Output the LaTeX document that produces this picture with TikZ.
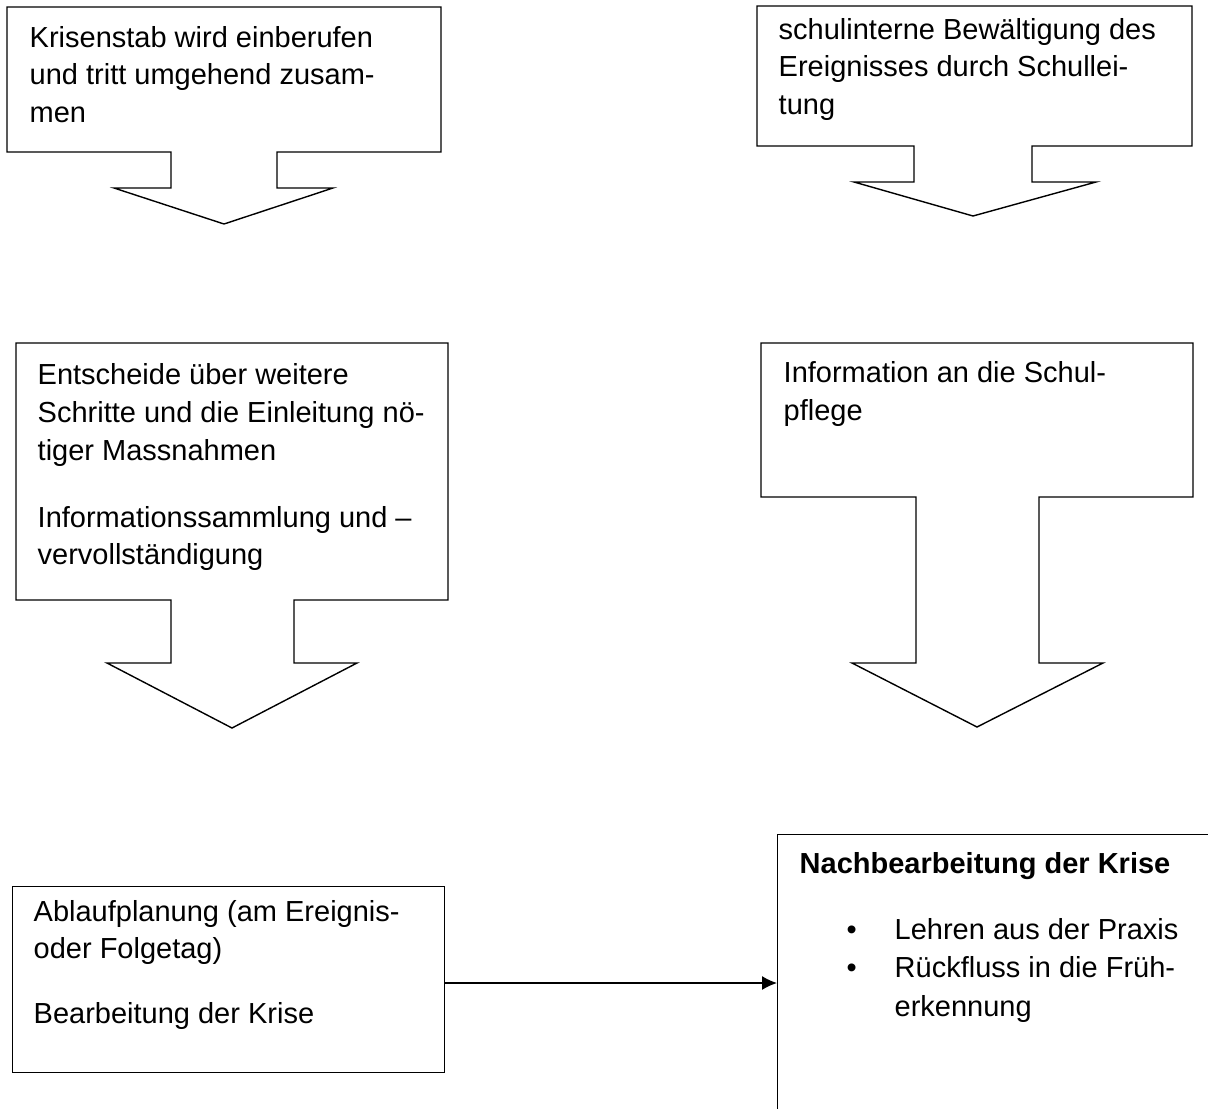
\documentclass[tikz,border=0pt]{standalone}
\usepackage{fontspec}
\setmainfont{Liberation Sans}
\usetikzlibrary{arrows.meta}

\begin{document}
\begin{tikzpicture}[x=0.5pt, y=-0.5pt, line width=0.7pt,
          font=\fontsize{14.5}{18.9}\selectfont, >={Latex[length=7.5pt,width=7pt]},
          txt/.style={anchor=north west, inner sep=0pt, align=left},
          callout/.style={draw, line join=miter},
          frame/.style={draw, anchor=north west, inner sep=0pt}]
        \useasboundingbox (0,0) rectangle (1208,1108);
        \clip (0,0) rectangle (1208,1108);
        \draw[callout] (7,7) -- (441,7) -- (441,152) -- (277,152) -- (277,188) -- (333,188) -- (224,224)
          -- (114,188) -- (171,188) -- (171,152) -- (7,152) -- cycle;
        \draw[callout] (757,6) -- (1192,6) -- (1192,146) -- (1032,146) -- (1032,182) -- (1096,182) -- (973,216)
          -- (854,182) -- (914,182) -- (914,146) -- (757,146) -- cycle;
        \draw[callout] (16,343) -- (448,343) -- (448,600) -- (294,600) -- (294,663) -- (357,663) -- (232,728)
          -- (107,663) -- (171,663) -- (171,600) -- (16,600) -- cycle;
        \draw[callout] (761,343) -- (1193,343) -- (1193,497) -- (1039,497) -- (1039,663) -- (1103,663) -- (977,727)
          -- (852,663) -- (916,663) -- (916,497) -- (761,497) -- cycle;
        \node[txt] (stab) at (29,19.9) {\strut Krisenstab wird einberufen\\und tritt umgehend zusam-\\men};
        \node[txt] (intern) at (778,12) {\strut schulinterne Bewältigung des\\Ereignisses durch Schullei-\\tung};
        \node[txt] (entscheid) at (37,357.4) {\strut Entscheide über weitere\\Schritte und die Einleitung nö-\\tiger Massnahmen\\[14.6pt]Informationssammlung und –\\vervollständigung};
        \node[txt] (pflege) at (783,355.4) {\strut Information an die Schul-\\pflege};
        \node[frame, minimum width=216pt, minimum height=93pt] (ablauf) at (12,886) {};
        \node[txt] (ablauftxt) at (33,894) {\strut Ablaufplanung (am Ereignis-\\oder Folgetag)\\[13.5pt]Bearbeitung der Krise};
        \node[frame, minimum width=230pt, minimum height=150pt] (nach) at (777,834) {};
        \node[txt] (nachtxt) at (799,846.4) {\strut\textbf{Nachbearbeitung der Krise}\\[14pt]
          \hspace*{23.5pt}\makebox[24pt][l]{\textbullet}Lehren aus der Praxis\\
          \hspace*{23.5pt}\makebox[24pt][l]{\textbullet}Rückfluss in die Früh-\\[1pt]
          \hspace*{47.5pt}erkennung};
        \coordinate (pfeil) at (600,983);
        \draw[->] (ablauf.east |- pfeil) -- (nach.west |- pfeil);
      \end{tikzpicture}
\end{document}
